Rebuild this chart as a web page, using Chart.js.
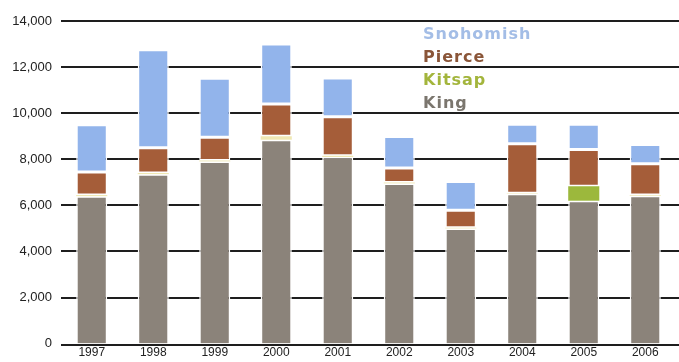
<!DOCTYPE html>
<html>
<head>
<meta charset="utf-8">
<script src="https://cdn.jsdelivr.net/npm/chart.js@4/dist/chart.umd.min.js"></script>
<style>
    body { margin: 0; background: #fff; }
    #wrap { width: 679px; height: 362px; }
</style>
</head>
<body>
<div id="wrap"><canvas id="jobsChart" width="679" height="362"></canvas></div>
<script>
// Categories and series
var years = ['1997', '1998', '1999', '2000', '2001', '2002', '2003', '2004', '2005', '2006'];
var king      = [6400, 7350, 7900, 8850, 8100, 6950, 5000, 6500, 6200, 6420];
var kitsap    = [50, 50, 50, 150, 50, 40, 30, 20, 630, 30];
var pierce    = [1000, 1100, 1000, 1400, 1700, 630, 760, 2150, 1590, 1350];
var snohomish = [2050, 4250, 2570, 2600, 1680, 1370, 1240, 850, 1100, 840];
var yTicks = [0, 2000, 4000, 6000, 8000, 10000, 12000, 14000];

var barColors = {
    king: '#8b837a',
    kitsap: '#9cb83c',
    kitsapThin: '#efe8b4', // very small kitsap values show up as a pale line
    pierce: '#a55d39',
    snohomish: '#92b4eb'
};

var legendItems = [
    { label: 'Snohomish', color: '#a3bde6' },
    { label: 'Pierce', color: '#8a5538' },
    { label: 'Kitsap', color: '#a3b53c' },
    { label: 'King', color: '#7b766e' }
];

var kitsapFill = kitsap.map(function (v) {
    return v > 300 ? barColors.kitsap : barColors.kitsapThin;
});

var tickFont = '"Liberation Sans", Arial, sans-serif';

// Horizontal rules run from the axis to the edge of the page
var rulesPlugin = {
    id: 'rules',
    beforeDatasetsDraw: function (chart) {
        var ctx = chart.ctx;
        var y = chart.scales.y;
        ctx.save();
        ctx.strokeStyle = '#1e1e1e';
        ctx.lineWidth = 2;
        yTicks.forEach(function (v) {
            var py = Math.round(y.getPixelForValue(v));
            if (v === 0) py += 1; // base line sits just under the bars
            ctx.beginPath();
            ctx.moveTo(chart.chartArea.left, py);
            ctx.lineTo(chart.width, py);
            ctx.stroke();
        });
        ctx.restore();
    }
};

// Coloured text legend, top to bottom
var textLegend = {
    id: 'textLegend',
    afterDraw: function (chart) {
        var ctx = chart.ctx;
        ctx.save();
        ctx.font = 'bold 16px "DejaVu Sans", sans-serif';
        ctx.letterSpacing = '1px';
        ctx.textAlign = 'left';
        ctx.textBaseline = 'alphabetic';
        legendItems.forEach(function (item, i) {
            ctx.fillStyle = item.color;
            ctx.fillText(item.label, 423, 38.5 + i * 23);
        });
        ctx.restore();
    }
};

var ctx = document.getElementById('jobsChart').getContext('2d');
var chart = new Chart(ctx, {
    type: 'bar',
    data: {
        labels: years,
        datasets: [
            { label: 'King', data: king, backgroundColor: barColors.king, borderColor: '#fff', borderWidth: 1.5, borderSkipped: 'start' },
            { label: 'Kitsap', data: kitsap, backgroundColor: kitsapFill, borderWidth: 0 },
            { label: 'Pierce', data: pierce, backgroundColor: barColors.pierce, borderColor: '#fff', borderWidth: 1.5, borderSkipped: false },
            { label: 'Snohomish', data: snohomish, backgroundColor: barColors.snohomish, borderColor: '#fff', borderWidth: 1.5, borderSkipped: false }
        ]
    },
    options: {
        responsive: false,
        animation: false,
        events: [],
        categoryPercentage: 0.505,
        barPercentage: 1,
        layout: { padding: { top: 21, right: 3, bottom: 0, left: 0 } },
        plugins: {
            legend: { display: false },
            tooltip: { enabled: false }
        },
        scales: {
            x: {
                stacked: true,
                grid: { display: false, drawTicks: false },
                border: { display: false },
                ticks: {
                    color: '#222',
                    padding: 2,
                    font: { family: tickFont, size: 12 }
                }
            },
            y: {
                stacked: true,
                min: 0,
                max: 14000,
                afterBuildTicks: function (scale) {
                    scale.ticks = yTicks.map(function (v) { return { value: v }; });
                },
                afterFit: function (scale) {
                    scale.width = 61;
                },
                grid: { display: false, drawTicks: false },
                border: { display: false },
                ticks: {
                    color: '#222',
                    padding: 9,
                    font: { family: tickFont, size: 13 },
                    callback: function (v) { return v.toLocaleString('en-US'); }
                }
            }
        }
    },
    plugins: [rulesPlugin, textLegend]
});
</script>
</body>
</html>
